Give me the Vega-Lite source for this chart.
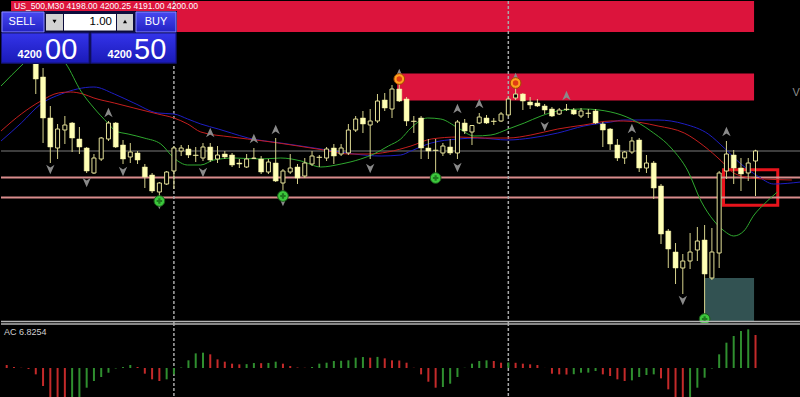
{
  "$schema": "https://vega.github.io/schema/vega-lite/v6.json",
  "background": "#000000",
  "padding": 0,
  "spacing": 0,
  "bounds": "flush",
  "config": {"view": {"stroke": null}, "concat": {"spacing": 0}, "scale": {"continuousPadding": 0}},
  "datasets": {
    "candles": [
      {"k":0,"o":4222.0,"h":4225.0,"l":4220.4,"c":4224.0},
      {"k":1,"o":4224.0,"h":4225.6,"l":4220.0,"c":4221.0},
      {"k":2,"o":4221.0,"h":4224.0,"l":4219.0,"c":4223.0},
      {"k":3,"o":4223.0,"h":4224.4,"l":4218.4,"c":4220.0},
      {"k":4,"o":4220.0,"h":4222.0,"l":4211.4,"c":4214.4},
      {"k":5,"o":4214.8,"h":4216.6,"l":4201.6,"c":4206.6},
      {"k":6,"o":4206.6,"h":4209.0,"l":4197.6,"c":4200.8},
      {"k":7,"o":4200.6,"h":4205.4,"l":4198.4,"c":4204.4},
      {"k":8,"o":4204.2,"h":4207.0,"l":4201.4,"c":4205.2},
      {"k":9,"o":4205.6,"h":4205.8,"l":4199.8,"c":4202.6},
      {"k":10,"o":4202.4,"h":4204.8,"l":4199.4,"c":4200.8},
      {"k":11,"o":4200.6,"h":4200.8,"l":4195.6,"c":4196.0},
      {"k":12,"o":4195.6,"h":4199.4,"l":4195.4,"c":4198.6},
      {"k":13,"o":4198.4,"h":4202.8,"l":4198.0,"c":4202.6},
      {"k":14,"o":4202.4,"h":4206.0,"l":4202.0,"c":4205.6},
      {"k":15,"o":4205.6,"h":4205.8,"l":4200.6,"c":4200.8},
      {"k":16,"o":4201.2,"h":4202.2,"l":4197.4,"c":4198.4},
      {"k":17,"o":4198.8,"h":4201.6,"l":4197.6,"c":4199.8},
      {"k":18,"o":4199.6,"h":4200.0,"l":4197.4,"c":4198.2},
      {"k":19,"o":4196.8,"h":4197.4,"l":4192.6,"c":4194.8},
      {"k":20,"o":4195.2,"h":4195.6,"l":4191.6,"c":4192.0},
      {"k":21,"o":4191.8,"h":4193.8,"l":4190.6,"c":4193.6},
      {"k":22,"o":4193.4,"h":4196.0,"l":4193.2,"c":4195.8},
      {"k":23,"o":4196.0,"h":4201.0,"l":4192.4,"c":4200.6},
      {"k":24,"o":4200.0,"h":4201.2,"l":4199.0,"c":4200.6},
      {"k":25,"o":4200.4,"h":4201.2,"l":4198.6,"c":4199.2},
      {"k":26,"o":4199.2,"h":4200.8,"l":4197.8,"c":4199.1},
      {"k":27,"o":4198.6,"h":4201.6,"l":4198.0,"c":4200.8},
      {"k":28,"o":4200.8,"h":4201.6,"l":4197.8,"c":4198.2},
      {"k":29,"o":4198.4,"h":4201.0,"l":4197.6,"c":4199.2},
      {"k":30,"o":4199.4,"h":4200.0,"l":4198.4,"c":4198.8},
      {"k":31,"o":4199.2,"h":4199.6,"l":4196.8,"c":4197.2},
      {"k":32,"o":4197.6,"h":4198.4,"l":4196.6,"c":4197.4},
      {"k":33,"o":4196.8,"h":4199.4,"l":4196.6,"c":4198.4},
      {"k":34,"o":4198.5,"h":4200.6,"l":4198.4,"c":4198.6},
      {"k":35,"o":4198.4,"h":4199.0,"l":4195.4,"c":4195.8},
      {"k":36,"o":4195.8,"h":4198.4,"l":4195.4,"c":4197.8},
      {"k":37,"o":4197.6,"h":4202.6,"l":4193.8,"c":4194.0},
      {"k":38,"o":4193.6,"h":4196.4,"l":4191.4,"c":4196.0},
      {"k":39,"o":4195.8,"h":4199.4,"l":4195.4,"c":4196.6},
      {"k":40,"o":4196.8,"h":4197.4,"l":4193.4,"c":4194.6},
      {"k":41,"o":4195.0,"h":4198.6,"l":4194.6,"c":4197.6},
      {"k":42,"o":4197.4,"h":4200.0,"l":4197.0,"c":4199.0},
      {"k":43,"o":4198.8,"h":4199.2,"l":4196.8,"c":4198.7},
      {"k":44,"o":4198.6,"h":4200.8,"l":4198.0,"c":4200.4},
      {"k":45,"o":4200.6,"h":4201.4,"l":4197.4,"c":4199.0},
      {"k":46,"o":4199.4,"h":4201.4,"l":4199.0,"c":4200.6},
      {"k":47,"o":4199.6,"h":4205.4,"l":4199.2,"c":4204.2},
      {"k":48,"o":4204.2,"h":4207.0,"l":4203.8,"c":4206.4},
      {"k":49,"o":4206.6,"h":4208.0,"l":4203.6,"c":4205.4},
      {"k":50,"o":4205.2,"h":4208.4,"l":4198.4,"c":4206.0},
      {"k":51,"o":4206.0,"h":4211.4,"l":4205.6,"c":4210.0},
      {"k":52,"o":4210.2,"h":4211.6,"l":4208.0,"c":4208.6},
      {"k":53,"o":4208.4,"h":4213.2,"l":4206.6,"c":4212.4},
      {"k":54,"o":4212.4,"h":4214.6,"l":4209.8,"c":4210.0},
      {"k":55,"o":4210.4,"h":4210.8,"l":4205.0,"c":4206.0},
      {"k":56,"o":4206.0,"h":4207.0,"l":4203.6,"c":4205.9},
      {"k":57,"o":4206.6,"h":4207.0,"l":4198.4,"c":4200.6},
      {"k":58,"o":4200.6,"h":4202.4,"l":4198.4,"c":4200.0},
      {"k":59,"o":4200.2,"h":4202.4,"l":4194.0,"c":4200.1},
      {"k":60,"o":4199.6,"h":4201.6,"l":4199.0,"c":4201.0},
      {"k":61,"o":4200.8,"h":4202.4,"l":4199.2,"c":4199.6},
      {"k":62,"o":4199.6,"h":4206.2,"l":4198.4,"c":4205.8},
      {"k":63,"o":4205.6,"h":4206.4,"l":4203.4,"c":4204.0},
      {"k":64,"o":4203.8,"h":4205.2,"l":4201.2,"c":4205.1},
      {"k":65,"o":4205.6,"h":4207.6,"l":4205.4,"c":4206.8},
      {"k":66,"o":4206.6,"h":4207.2,"l":4205.4,"c":4205.6},
      {"k":67,"o":4206.0,"h":4206.6,"l":4205.2,"c":4205.9},
      {"k":68,"o":4206.0,"h":4207.8,"l":4205.8,"c":4207.4},
      {"k":69,"o":4207.2,"h":4210.8,"l":4207.0,"c":4210.4},
      {"k":70,"o":4210.6,"h":4213.6,"l":4210.2,"c":4211.4},
      {"k":71,"o":4211.4,"h":4211.6,"l":4208.2,"c":4210.0},
      {"k":72,"o":4209.8,"h":4210.8,"l":4208.4,"c":4209.2},
      {"k":73,"o":4209.6,"h":4210.4,"l":4208.8,"c":4209.0},
      {"k":74,"o":4209.0,"h":4209.4,"l":4207.4,"c":4208.2},
      {"k":75,"o":4208.4,"h":4208.8,"l":4206.8,"c":4207.0},
      {"k":76,"o":4207.4,"h":4208.6,"l":4207.2,"c":4208.2},
      {"k":77,"o":4208.4,"h":4209.4,"l":4208.0,"c":4208.3},
      {"k":78,"o":4208.2,"h":4208.6,"l":4207.2,"c":4207.4},
      {"k":79,"o":4207.0,"h":4208.6,"l":4206.6,"c":4208.0},
      {"k":80,"o":4207.6,"h":4208.4,"l":4206.6,"c":4207.5},
      {"k":81,"o":4208.0,"h":4208.4,"l":4205.4,"c":4205.6},
      {"k":82,"o":4205.4,"h":4205.8,"l":4200.8,"c":4204.2},
      {"k":83,"o":4204.4,"h":4204.6,"l":4200.2,"c":4201.4},
      {"k":84,"o":4201.2,"h":4202.4,"l":4198.0,"c":4198.6},
      {"k":85,"o":4198.6,"h":4200.0,"l":4197.4,"c":4199.8},
      {"k":86,"o":4199.8,"h":4202.8,"l":4199.4,"c":4202.0},
      {"k":87,"o":4202.2,"h":4202.6,"l":4195.8,"c":4196.6},
      {"k":88,"o":4196.6,"h":4199.2,"l":4195.6,"c":4197.6},
      {"k":89,"o":4197.6,"h":4198.0,"l":4190.4,"c":4192.6},
      {"k":90,"o":4193.0,"h":4193.4,"l":4181.4,"c":4183.4},
      {"k":91,"o":4184.0,"h":4184.4,"l":4176.6,"c":4180.4},
      {"k":92,"o":4179.8,"h":4181.6,"l":4173.4,"c":4176.6},
      {"k":93,"o":4176.6,"h":4179.4,"l":4171.4,"c":4178.0},
      {"k":94,"o":4178.0,"h":4183.6,"l":4176.4,"c":4179.8},
      {"k":95,"o":4180.2,"h":4184.8,"l":4178.0,"c":4182.0},
      {"k":96,"o":4182.2,"h":4185.2,"l":4166.6,"c":4175.4},
      {"k":97,"o":4174.6,"h":4184.6,"l":4174.2,"c":4179.8},
      {"k":98,"o":4179.6,"h":4196.0,"l":4176.6,"c":4195.6},
      {"k":99,"o":4196.0,"h":4202.0,"l":4194.4,"c":4199.4},
      {"k":100,"o":4199.2,"h":4200.2,"l":4193.4,"c":4196.6},
      {"k":101,"o":4196.6,"h":4198.6,"l":4192.0,"c":4195.4},
      {"k":102,"o":4195.6,"h":4198.6,"l":4194.0,"c":4197.6},
      {"k":103,"o":4198.0,"h":4200.25,"l":4191.0,"c":4200.0}
    ],
    "lips": [
      {"k":-0.78,"p":4213.0},{"k":2.24,"p":4217.4},{"k":5.0,"p":4221.0},{"k":8.16,"p":4217.4},
      {"k":10.2,"p":4212.0},{"k":12.0,"p":4208.6},{"k":13.9,"p":4205.6},{"k":15.0,"p":4204.0},
      {"k":16.7,"p":4203.4},{"k":18.9,"p":4202.6},{"k":21.2,"p":4201.4},{"k":23.0,"p":4198.6},
      {"k":24.9,"p":4197.2},{"k":26.7,"p":4197.2},{"k":28.5,"p":4198.2},{"k":31.3,"p":4198.6},
      {"k":35.0,"p":4198.4},{"k":37.7,"p":4198.6},{"k":40.5,"p":4198.0},{"k":43.2,"p":4196.8},
      {"k":46.0,"p":4197.4},{"k":48.7,"p":4198.4},{"k":50.5,"p":4199.4},{"k":52.5,"p":4201.0},
      {"k":54.2,"p":4202.4},{"k":55.6,"p":4204.6},{"k":57.9,"p":4206.6},{"k":59.7,"p":4206.4},
      {"k":62.1,"p":4204.6},{"k":64.3,"p":4203.0},{"k":66.6,"p":4203.2},{"k":69.0,"p":4204.4},
      {"k":71.2,"p":4205.6},{"k":73.5,"p":4207.0},{"k":75.8,"p":4208.0},{"k":79.4,"p":4208.4},
      {"k":83.1,"p":4207.8},{"k":85.9,"p":4206.4},{"k":88.6,"p":4204.0},{"k":91.4,"p":4200.6},
      {"k":93.7,"p":4196.0},{"k":95.5,"p":4190.0},{"k":97.3,"p":4186.0},{"k":98.7,"p":4184.0},
      {"k":100.0,"p":4183.0},{"k":101.4,"p":4184.0},{"k":102.8,"p":4187.2},{"k":104.2,"p":4189.4},
      {"k":106.0,"p":4191.8}
    ],
    "teeth": [
      {"k":-0.78,"p":4204.0},{"k":2.0,"p":4207.4},{"k":4.7,"p":4210.0},{"k":7.1,"p":4211.6},
      {"k":8.8,"p":4211.8},{"k":10.5,"p":4211.4},{"k":12.0,"p":4210.6},{"k":14.8,"p":4209.6},
      {"k":17.5,"p":4208.6},{"k":20.8,"p":4207.4},{"k":23.0,"p":4206.6},{"k":24.9,"p":4205.4},
      {"k":26.7,"p":4203.8},{"k":30.9,"p":4202.8},{"k":35.4,"p":4202.0},{"k":40.1,"p":4201.0},
      {"k":43.6,"p":4200.2},{"k":46.9,"p":4199.4},{"k":49.7,"p":4199.4},{"k":52.4,"p":4199.8},
      {"k":55.6,"p":4201.0},{"k":58.4,"p":4202.4},{"k":62.1,"p":4202.8},{"k":65.7,"p":4202.6},
      {"k":69.0,"p":4202.6},{"k":72.1,"p":4203.2},{"k":75.8,"p":4204.4},{"k":79.4,"p":4205.2},
      {"k":83.1,"p":4206.0},{"k":84.9,"p":4206.0},{"k":89.6,"p":4205.0},{"k":93.2,"p":4203.6},
      {"k":95.9,"p":4201.0},{"k":98.3,"p":4198.0},{"k":100.0,"p":4195.6},{"k":102.4,"p":4194.6},
      {"k":104.2,"p":4194.4},{"k":108.0,"p":4194.2}
    ],
    "jaw": [
      {"k":-0.78,"p":4202.0},{"k":2.0,"p":4205.6},{"k":4.7,"p":4209.4},{"k":7.5,"p":4211.4},
      {"k":12.0,"p":4212.8},{"k":14.8,"p":4211.4},{"k":17.5,"p":4209.6},{"k":20.8,"p":4207.6},
      {"k":23.0,"p":4207.4},{"k":24.9,"p":4206.4},{"k":26.7,"p":4205.4},{"k":29.1,"p":4204.4},
      {"k":30.9,"p":4203.6},{"k":33.2,"p":4202.6},{"k":37.7,"p":4201.6},{"k":42.3,"p":4200.6},
      {"k":45.0,"p":4200.0},{"k":47.8,"p":4199.4},{"k":51.5,"p":4199.0},{"k":54.2,"p":4199.2},
      {"k":55.6,"p":4200.0},{"k":58.4,"p":4201.6},{"k":62.1,"p":4202.4},{"k":64.8,"p":4202.6},
      {"k":69.0,"p":4202.2},{"k":72.1,"p":4202.6},{"k":75.8,"p":4203.6},{"k":79.4,"p":4205.0},
      {"k":83.1,"p":4205.8},{"k":84.9,"p":4206.2},{"k":89.6,"p":4206.2},{"k":93.2,"p":4205.4},
      {"k":96.5,"p":4203.4},{"k":98.7,"p":4200.6},{"k":101.0,"p":4197.4},{"k":103.3,"p":4195.0},
      {"k":105.5,"p":4193.4},{"k":109.2,"p":4193.8}
    ],
    "zones": [
      {"k0":0.6,"k1":102.8,"top":4230.0,"bottom":4223.8},
      {"k0":53.7,"k1":102.8,"top":4215.5,"bottom":4210.1}
    ],
    "demand": [{"k0":95.95,"k1":102.8,"top":4174.6,"bottom":4166.0}],
    "box": [{"k0":98.6,"k1":106.06,"top":4196.24,"bottom":4189.16}],
    "levels": [{"p":4194.7},{"p":4190.7}],
    "seps": [{"k":23},{"k":69}],
    "fractals": [
      {"k":14,"p":4207.6,"dir":"up"},{"k":28,"p":4203.6,"dir":"up"},{"k":34,"p":4202.4,"dir":"up"},
      {"k":37,"p":4204.2,"dir":"up"},{"k":54,"p":4215.4,"dir":"up"},{"k":62,"p":4208.4,"dir":"up"},
      {"k":65,"p":4209.4,"dir":"up"},{"k":70,"p":4214.6,"dir":"up"},{"k":77,"p":4211.0,"dir":"up"},
      {"k":86,"p":4204.4,"dir":"up"},{"k":99,"p":4203.8,"dir":"up"},
      {"k":6,"p":4196.4,"dir":"down"},{"k":11,"p":4193.8,"dir":"down"},{"k":16,"p":4196.0,"dir":"down"},
      {"k":21,"p":4189.4,"dir":"down"},{"k":27,"p":4195.8,"dir":"down"},{"k":38,"p":4190.0,"dir":"down"},
      {"k":50,"p":4196.6,"dir":"down"},{"k":62,"p":4196.8,"dir":"down"},{"k":74,"p":4205.0,"dir":"down"},
      {"k":93,"p":4170.2,"dir":"down"}
    ],
    "buySignals": [{"k":21,"p":4190.0},{"k":38,"p":4191.0},{"k":59,"p":4194.6},{"k":96,"p":4166.4}],
    "sellSignals": [{"k":54,"p":4214.4},{"k":70,"p":4213.6}],
    "ac": [
      {"k":0,"v":0.62,"dir":"down"},{"k":1,"v":0.21,"dir":"down"},{"k":2,"v":0.05,"dir":"down"},
      {"k":3,"v":-0.2,"dir":"down"},{"k":4,"v":-1.31,"dir":"down"},{"k":5,"v":-3.72,"dir":"down"},
      {"k":6,"v":-6.6,"dir":"down"},{"k":7,"v":-7.3,"dir":"down"},{"k":8,"v":-7.8,"dir":"down"},
      {"k":9,"v":-6.9,"dir":"up"},{"k":10,"v":-6.0,"dir":"up"},{"k":11,"v":-4.07,"dir":"up"},
      {"k":12,"v":-2.69,"dir":"up"},{"k":13,"v":-1.86,"dir":"up"},{"k":14,"v":-0.97,"dir":"up"},
      {"k":15,"v":-0.1,"dir":"up"},{"k":16,"v":0.2,"dir":"up"},{"k":17,"v":0.62,"dir":"up"},
      {"k":18,"v":0.21,"dir":"down"},{"k":19,"v":-1.17,"dir":"down"},{"k":20,"v":-2.34,"dir":"down"},
      {"k":21,"v":-2.69,"dir":"down"},{"k":22,"v":-2.34,"dir":"up"},{"k":23,"v":-1.31,"dir":"up"},
      {"k":24,"v":0.1,"dir":"up"},{"k":25,"v":1.59,"dir":"up"},{"k":26,"v":3.03,"dir":"up"},
      {"k":27,"v":3.17,"dir":"up"},{"k":28,"v":2.83,"dir":"down"},{"k":29,"v":1.79,"dir":"down"},
      {"k":30,"v":1.31,"dir":"down"},{"k":31,"v":0.9,"dir":"down"},{"k":32,"v":0.76,"dir":"down"},
      {"k":33,"v":0.8,"dir":"up"},{"k":34,"v":1.03,"dir":"up"},{"k":35,"v":1.0,"dir":"down"},
      {"k":36,"v":1.05,"dir":"up"},{"k":37,"v":1.31,"dir":"up"},{"k":38,"v":0.9,"dir":"down"},
      {"k":39,"v":0.41,"dir":"down"},{"k":40,"v":0.1,"dir":"down"},{"k":41,"v":0.05,"dir":"down"},
      {"k":42,"v":0.21,"dir":"up"},{"k":43,"v":0.9,"dir":"up"},{"k":44,"v":1.1,"dir":"up"},
      {"k":45,"v":1.45,"dir":"up"},{"k":46,"v":1.5,"dir":"up"},{"k":47,"v":1.59,"dir":"up"},
      {"k":48,"v":2.14,"dir":"up"},{"k":49,"v":2.27,"dir":"up"},{"k":50,"v":2.14,"dir":"down"},
      {"k":51,"v":2.3,"dir":"up"},{"k":52,"v":2.0,"dir":"down"},{"k":53,"v":1.59,"dir":"down"},
      {"k":54,"v":1.55,"dir":"down"},{"k":55,"v":1.1,"dir":"down"},{"k":56,"v":0.05,"dir":"down"},
      {"k":57,"v":-1.31,"dir":"down"},{"k":58,"v":-2.83,"dir":"down"},{"k":59,"v":-4.07,"dir":"down"},
      {"k":60,"v":-3.93,"dir":"up"},{"k":61,"v":-3.24,"dir":"up"},{"k":62,"v":-1.86,"dir":"up"},
      {"k":63,"v":0.05,"dir":"up"},{"k":64,"v":0.9,"dir":"up"},{"k":65,"v":1.45,"dir":"up"},
      {"k":66,"v":1.59,"dir":"up"},{"k":67,"v":1.45,"dir":"down"},{"k":68,"v":1.1,"dir":"down"},
      {"k":69,"v":1.15,"dir":"up"},{"k":70,"v":1.08,"dir":"down"},{"k":71,"v":0.9,"dir":"down"},
      {"k":72,"v":0.76,"dir":"down"},{"k":73,"v":0.62,"dir":"down"},{"k":74,"v":0.02,"dir":"down"},
      {"k":75,"v":-1.17,"dir":"down"},{"k":76,"v":-1.31,"dir":"down"},{"k":77,"v":-1.35,"dir":"down"},
      {"k":78,"v":-1.28,"dir":"up"},{"k":79,"v":-0.97,"dir":"up"},{"k":80,"v":-0.95,"dir":"up"},
      {"k":81,"v":-0.62,"dir":"up"},{"k":82,"v":-1.31,"dir":"down"},{"k":83,"v":-1.65,"dir":"down"},
      {"k":84,"v":-2.34,"dir":"down"},{"k":85,"v":-2.69,"dir":"down"},{"k":86,"v":-2.55,"dir":"up"},
      {"k":87,"v":-1.86,"dir":"up"},{"k":88,"v":-1.45,"dir":"up"},{"k":89,"v":-1.31,"dir":"up"},
      {"k":90,"v":-2.14,"dir":"down"},{"k":91,"v":-4.41,"dir":"down"},{"k":92,"v":-6.8,"dir":"down"},
      {"k":93,"v":-7.5,"dir":"down"},{"k":94,"v":-6.6,"dir":"up"},{"k":95,"v":-4.07,"dir":"up"},
      {"k":96,"v":-2.0,"dir":"up"},{"k":97,"v":-0.1,"dir":"up"},{"k":98,"v":2.83,"dir":"up"},
      {"k":99,"v":5.24,"dir":"up"},{"k":100,"v":6.62,"dir":"up"},{"k":101,"v":7.65,"dir":"up"},
      {"k":102,"v":8.0,"dir":"up"},{"k":103,"v":6.8254,"dir":"down"}
    ]
  },
  "vconcat": [
    {
      "width": 800,
      "height": 322,
      "layer": [
        {"data":{"name":"zones"},"mark":{"type":"rect","color":"#dc143c"},
         "encoding":{"x":{"field":"k0","type":"quantitative","scale":{"domain":[-0.784,109.257],"nice":false,"zero":false,"padding":0},"axis":null},"x2":{"field":"k1"},
                     "y":{"field":"top","type":"quantitative","scale":{"domain":[4165.6,4230],"nice":false,"zero":false,"padding":0},"axis":null},"y2":{"field":"bottom"}}},
        {"data":{"name":"demand"},"mark":{"type":"rect","color":"#325252"},
         "encoding":{"x":{"field":"k0","type":"quantitative","axis":null},"x2":{"field":"k1"},
                     "y":{"field":"top","type":"quantitative","axis":null},"y2":{"field":"bottom"}}},
        {"data":{"name":"box"},"mark":{"type":"rect","filled":false,"color":"#e8141c","strokeWidth":3},
         "encoding":{"x":{"field":"k0","type":"quantitative","axis":null},"x2":{"field":"k1"},
                     "y":{"field":"top","type":"quantitative","axis":null},"y2":{"field":"bottom"}}},
        {"data":{"values":[{"p":4200.0}]},"mark":{"type":"rule","color":"#7a7a7a","strokeWidth":1},
         "encoding":{"y":{"field":"p","type":"quantitative","axis":null}}},
        {"data":{"name":"levels"},"mark":{"type":"rule","color":"#d98c8c","strokeWidth":2},
         "encoding":{"y":{"field":"p","type":"quantitative","axis":null}}},
        {"data":{"name":"seps"},"mark":{"type":"rule","color":"#a8a8a8","strokeWidth":1.5,"strokeDash":[3,2]},
         "encoding":{"x":{"field":"k","type":"quantitative","axis":null}}},
        {"data":{"name":"jaw"},"mark":{"type":"line","color":"#1e1ec4","strokeWidth":1,"interpolate":"monotone","clip":true},
         "encoding":{"x":{"field":"k","type":"quantitative","axis":null},
                     "y":{"field":"p","type":"quantitative","axis":null}}},
        {"data":{"name":"teeth"},"mark":{"type":"line","color":"#c41e1e","strokeWidth":1,"interpolate":"monotone","clip":true},
         "encoding":{"x":{"field":"k","type":"quantitative","axis":null},
                     "y":{"field":"p","type":"quantitative","axis":null}}},
        {"data":{"name":"lips"},"mark":{"type":"line","color":"#2fa82f","strokeWidth":1,"interpolate":"monotone","clip":true},
         "encoding":{"x":{"field":"k","type":"quantitative","axis":null},
                     "y":{"field":"p","type":"quantitative","axis":null}}},
        {"data":{"name":"candles"},"mark":{"type":"rule","color":"#d6d28c","strokeWidth":1},
         "encoding":{"x":{"field":"k","type":"quantitative","axis":null},
                     "y":{"field":"l","type":"quantitative","axis":null},"y2":{"field":"h"}}},
        {"data":{"name":"candles"},"transform":[{"filter":"datum.c > datum.o"}],
         "mark":{"type":"bar","size":4,"fill":"#000000","stroke":"#e4e098","strokeWidth":1},
         "encoding":{"x":{"field":"k","type":"quantitative","axis":null},
                     "y":{"field":"o","type":"quantitative","axis":null},"y2":{"field":"c"}}},
        {"data":{"name":"candles"},"transform":[{"filter":"datum.c <= datum.o"}],
         "mark":{"type":"bar","size":5,"fill":"#ffffb6","stroke":"#f0ec9e","strokeWidth":0.5},
         "encoding":{"x":{"field":"k","type":"quantitative","axis":null},
                     "y":{"field":"o","type":"quantitative","axis":null},"y2":{"field":"c"}}},
        {"data":{"name":"fractals"},"mark":{"type":"point","filled":true,"size":110,"color":"#8a8a8a","opacity":1},
         "encoding":{"x":{"field":"k","type":"quantitative","axis":null},
                     "y":{"field":"p","type":"quantitative","axis":null},
                     "shape":{"field":"dir","type":"nominal","scale":{"domain":["up","down"],"range":["M0,-1L0.8,0.8L0,0.3L-0.8,0.8Z","M0,1L0.8,-0.8L0,-0.3L-0.8,-0.8Z"]},"legend":null}}},
        {"data":{"name":"buySignals"},"mark":{"type":"point","shape":"circle","filled":true,"size":115,"color":"#3cc83c","stroke":"#1a5c1a","strokeWidth":1,"opacity":1,"clip":true},
         "encoding":{"x":{"field":"k","type":"quantitative","axis":null},
                     "y":{"field":"p","type":"quantitative","axis":null}}},
        {"data":{"name":"buySignals"},"mark":{"type":"point","shape":"cross","filled":true,"size":30,"color":"#1e781e","opacity":1},
         "encoding":{"x":{"field":"k","type":"quantitative","axis":null},
                     "y":{"field":"p","type":"quantitative","axis":null}}},
        {"data":{"name":"sellSignals"},"mark":{"type":"point","shape":"circle","filled":true,"size":115,"color":"#ffa01e","stroke":"#a04a00","strokeWidth":1,"opacity":1},
         "encoding":{"x":{"field":"k","type":"quantitative","axis":null},
                     "y":{"field":"p","type":"quantitative","axis":null}}},
        {"data":{"name":"sellSignals"},"mark":{"type":"point","shape":"circle","filled":true,"size":30,"color":"#e03c14","opacity":1},
         "encoding":{"x":{"field":"k","type":"quantitative","axis":null},
                     "y":{"field":"p","type":"quantitative","axis":null}}},
        {"data":{"values":[{"k":108.6,"p":4211.6,"t":"V"}]},"mark":{"type":"text","color":"#8c8c8c","fontSize":11,"font":"Liberation Sans","align":"center","baseline":"middle"},
         "encoding":{"x":{"field":"k","type":"quantitative","axis":null},
                     "y":{"field":"p","type":"quantitative","axis":null},"text":{"field":"t"}}},
        {"data":{"values":[{"p":4165.9}]},"mark":{"type":"rule","color":"#b4b4b4","strokeWidth":1.5},
         "encoding":{"y":{"field":"p","type":"quantitative","axis":null}}},
        {"data":{"values":[{}]},"mark":{"type":"rect","color":"#0c0c3c"},
         "encoding":{"x":{"datum":-0.784,"type":"quantitative","axis":null},"x2":{"datum":23.425},
                     "y":{"datum":4228.0,"type":"quantitative","axis":null},"y2":{"datum":4217.4}}},
        {"data":{"values":[{}]},"mark":{"type":"rect","fill":{"gradient":"linear","x1":0,"y1":0,"x2":0,"y2":1,"stops":[{"offset":0,"color":"#4848f0"},{"offset":1,"color":"#2222c4"}]},"stroke":"#8a8aff","strokeWidth":1},
         "encoding":{"x":{"datum":-0.647,"type":"quantitative","axis":null},"x2":{"datum":5.131},
                     "y":{"datum":4227.8,"type":"quantitative","axis":null},"y2":{"datum":4223.8}}},
        {"data":{"values":[{}]},"mark":{"type":"rect","fill":{"gradient":"linear","x1":0,"y1":0,"x2":0,"y2":1,"stops":[{"offset":0,"color":"#4848f0"},{"offset":1,"color":"#2222c4"}]},"stroke":"#8a8aff","strokeWidth":1},
         "encoding":{"x":{"datum":17.785,"type":"quantitative","axis":null},"x2":{"datum":23.287},
                     "y":{"datum":4227.8,"type":"quantitative","axis":null},"y2":{"datum":4223.8}}},
        {"data":{"values":[{}]},"mark":{"type":"rect","color":"#d2d2d2"},
         "encoding":{"x":{"datum":5.406,"type":"quantitative","axis":null},"x2":{"datum":7.744},
                     "y":{"datum":4227.4,"type":"quantitative","axis":null},"y2":{"datum":4224.1}}},
        {"data":{"values":[{}]},"mark":{"type":"rect","color":"#ffffff"},
         "encoding":{"x":{"datum":7.882,"type":"quantitative","axis":null},"x2":{"datum":15.034},
                     "y":{"datum":4227.4,"type":"quantitative","axis":null},"y2":{"datum":4224.1}}},
        {"data":{"values":[{}]},"mark":{"type":"rect","color":"#d2d2d2"},
         "encoding":{"x":{"datum":15.172,"type":"quantitative","axis":null},"x2":{"datum":17.373},
                     "y":{"datum":4227.4,"type":"quantitative","axis":null},"y2":{"datum":4224.1}}},
        {"data":{"values":[{}]},"mark":{"type":"rect","fill":{"gradient":"linear","x1":0,"y1":0,"x2":0,"y2":1,"stops":[{"offset":0,"color":"#3434ea"},{"offset":1,"color":"#1a1ab8"}]},"stroke":"#14147a","strokeWidth":1},
         "encoding":{"x":{"datum":-0.72,"type":"quantitative","axis":null},"x2":{"datum":11.32},
                     "y":{"datum":4223.6,"type":"quantitative","axis":null},"y2":{"datum":4217.6}}},
        {"data":{"values":[{}]},"mark":{"type":"rect","fill":{"gradient":"linear","x1":0,"y1":0,"x2":0,"y2":1,"stops":[{"offset":0,"color":"#3434ea"},{"offset":1,"color":"#1a1ab8"}]},"stroke":"#14147a","strokeWidth":1},
         "encoding":{"x":{"datum":11.595,"type":"quantitative","axis":null},"x2":{"datum":23.287},
                     "y":{"datum":4223.6,"type":"quantitative","axis":null},"y2":{"datum":4217.6}}},
        {"data":{"values":[{}]},"mark":{"type":"text","text":"SELL","color":"#ffffff","fontSize":11,"font":"Liberation Sans","align":"center","baseline":"middle"},
         "encoding":{"x":{"datum":2.105,"type":"quantitative","axis":null},
                     "y":{"datum":4225.8,"type":"quantitative","axis":null}}},
        {"data":{"values":[{}]},"mark":{"type":"text","text":"BUY","color":"#ffffff","fontSize":11,"font":"Liberation Sans","align":"center","baseline":"middle"},
         "encoding":{"x":{"datum":20.536,"type":"quantitative","axis":null},
                     "y":{"datum":4225.8,"type":"quantitative","axis":null}}},
        {"data":{"values":[{}]},"mark":{"type":"text","text":"1.00","color":"#000000","fontSize":11.5,"font":"Liberation Sans","align":"right","baseline":"middle"},
         "encoding":{"x":{"datum":14.484,"type":"quantitative","axis":null},
                     "y":{"datum":4225.8,"type":"quantitative","axis":null}}},
        {"data":{"values":[{}]},"mark":{"type":"point","shape":"triangle-down","filled":true,"size":16,"color":"#000000","opacity":1},
         "encoding":{"x":{"datum":6.575,"type":"quantitative","axis":null},
                     "y":{"datum":4225.9,"type":"quantitative","axis":null}}},
        {"data":{"values":[{}]},"mark":{"type":"point","shape":"triangle-up","filled":true,"size":16,"color":"#000000","opacity":1},
         "encoding":{"x":{"datum":16.272,"type":"quantitative","axis":null},
                     "y":{"datum":4225.9,"type":"quantitative","axis":null}}},
        {"data":{"values":[{}]},"mark":{"type":"text","text":"4200","color":"#ffffff","fontSize":11,"fontWeight":"bold","font":"Liberation Sans","align":"right","baseline":"alphabetic"},
         "encoding":{"x":{"datum":4.856,"type":"quantitative","axis":null},
                     "y":{"datum":4218.7,"type":"quantitative","axis":null}}},
        {"data":{"values":[{}]},"mark":{"type":"text","text":"00","color":"#ffffff","fontSize":29,"font":"Liberation Sans","align":"left","baseline":"alphabetic"},
         "encoding":{"x":{"datum":5.268,"type":"quantitative","axis":null},
                     "y":{"datum":4218.5,"type":"quantitative","axis":null}}},
        {"data":{"values":[{}]},"mark":{"type":"text","text":"4200","color":"#ffffff","fontSize":11,"fontWeight":"bold","font":"Liberation Sans","align":"right","baseline":"alphabetic"},
         "encoding":{"x":{"datum":17.235,"type":"quantitative","axis":null},
                     "y":{"datum":4218.7,"type":"quantitative","axis":null}}},
        {"data":{"values":[{}]},"mark":{"type":"text","text":"50","color":"#ffffff","fontSize":29,"font":"Liberation Sans","align":"left","baseline":"alphabetic"},
         "encoding":{"x":{"datum":17.51,"type":"quantitative","axis":null},
                     "y":{"datum":4218.5,"type":"quantitative","axis":null}}},
        {"data":{"values":[{}]},"mark":{"type":"text","text":"US_500,M30  4198.00 4200.25 4191.00 4200.00","color":"#ffffff","fontSize":8.6,"font":"Liberation Sans","align":"left","baseline":"top"},
         "encoding":{"x":{"datum":1.004,"type":"quantitative","axis":null},
                     "y":{"datum":4229.9,"type":"quantitative","axis":null}}}
      ]
    },
    {
      "width": 800,
      "height": 75,
      "layer": [
        {"data":{"values":[{"v":9.1}]},"mark":{"type":"rule","color":"#b4b4b4","strokeWidth":1.5},
         "encoding":{"y":{"field":"v","type":"quantitative","scale":{"domain":[-6.2,9.31],"nice":false,"zero":false,"padding":0},"axis":null}}},
        {"data":{"name":"seps"},"mark":{"type":"rule","color":"#a8a8a8","strokeWidth":1.5,"strokeDash":[3,2]},
         "encoding":{"x":{"field":"k","type":"quantitative","scale":{"domain":[-0.784,109.257],"nice":false,"zero":false,"padding":0},"axis":null}}},
        {"data":{"name":"ac"},"mark":{"type":"rule","strokeWidth":2,"clip":true},
         "encoding":{"x":{"field":"k","type":"quantitative","axis":null},
                     "y":{"field":"v","type":"quantitative","axis":null},
                     "y2":{"datum":0},
                     "color":{"field":"dir","type":"nominal","scale":{"domain":["up","down"],"range":["#2f8f2f","#c42a2a"]},"legend":null}}},
        {"data":{"values":[{"k":-0.37,"v":7.35,"t":"AC 6.8254"}]},"mark":{"type":"text","color":"#d0d0d0","fontSize":9,"font":"Liberation Sans","align":"left","baseline":"middle"},
         "encoding":{"x":{"field":"k","type":"quantitative","axis":null},
                     "y":{"field":"v","type":"quantitative","axis":null},"text":{"field":"t"}}}
      ]
    }
  ]
}
